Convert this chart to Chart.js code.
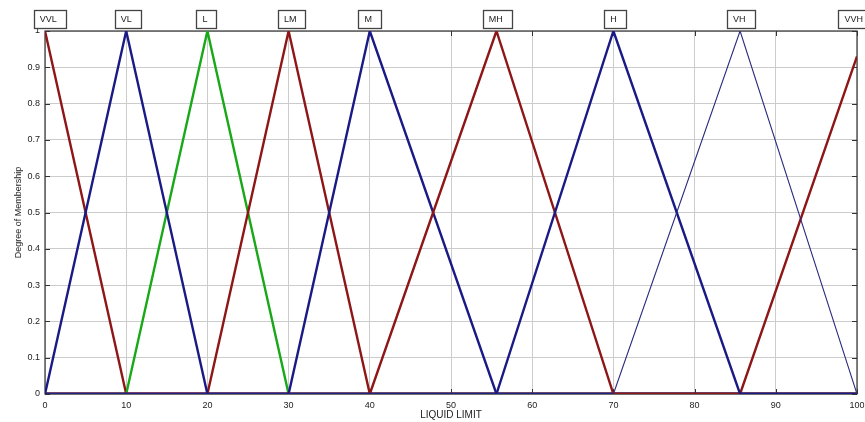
<!DOCTYPE html>
<html lang="en">
<head>
    <meta charset="UTF-8">
    <title>Liquid Limit Membership Functions</title>
    <script src="https://cdn.jsdelivr.net/npm/chart.js"></script>
    <style>
        body {
            margin: 0;
            padding: 0;
            background: #ffffff;
        }

        canvas {
            display: block;
        }
    </style>
</head>
<body>
    <canvas id="chartCanvas" width="865" height="422"></canvas>

    <script>
        // membership function names and the points (x, degree) of each triangle
        const mfNames = ['VVL', 'VL', 'L', 'LM', 'M', 'MH', 'H', 'VH', 'VVH'];
        const mfX = [
            [0, 10, 100],
            [0, 10, 20, 100],
            [0, 10, 20, 30, 100],
            [0, 20, 30, 40, 100],
            [0, 30, 40, 55.6, 100],
            [0, 40, 55.6, 70, 100],
            [0, 55.6, 70, 85.6, 100],
            [0, 70, 85.6, 100],
            [0, 85.6, 100]
        ];
        const mfY = [
            [1, 0, 0],
            [0, 1, 0, 0],
            [0, 0, 1, 0, 0],
            [0, 0, 1, 0, 0],
            [0, 0, 1, 0, 0],
            [0, 0, 1, 0, 0],
            [0, 0, 1, 0, 0],
            [0, 0, 1, 0],
            [0, 0, 0.93]
        ];
        // where each name box sits along the x axis
        const labelX = [0.4, 10, 19.7, 30.2, 39.8, 55.5, 70, 85.5, 99.6];
        const xTicks = [0, 10, 20, 30, 40, 50, 60, 70, 80, 90, 100];
        const yTicks = [0, 0.1, 0.2, 0.3, 0.4, 0.5, 0.6, 0.7, 0.8, 0.9, 1];

        const RED = '#8e1616';
        const BLUE = '#1a1a86';
        const GREEN = '#18a818';
        const mfColors = [RED, BLUE, GREEN, RED, BLUE, RED, BLUE, '#2a2a7e', RED];
        const mfWidths = [2.4, 2.4, 2.4, 2.4, 2.4, 2.4, 2.4, 1.1, 2.4];
        // lower number is drawn on top
        const mfOrder = [8, 4, 7, 6, 3, 2, 1, 0, 5];

        const datasets = mfNames.map((name, i) => ({
            label: name,
            data: mfX[i].map((x, j) => ({ x: x, y: mfY[i][j] })),
            borderColor: mfColors[i],
            backgroundColor: mfColors[i],
            borderWidth: mfWidths[i],
            showLine: true,
            pointRadius: 0,
            tension: 0,
            order: mfOrder[i]
        }));

        const framePlugin = {
            id: 'frame',
            beforeDatasetsDraw(chart) {
                const { ctx, chartArea: a, scales } = chart;
                ctx.save();
                ctx.strokeStyle = '#333333';
                ctx.lineWidth = 1.2;
                ctx.strokeRect(a.left, a.top, a.right - a.left, a.bottom - a.top);
                // MATLAB style inward ticks on every side
                ctx.lineWidth = 1;
                xTicks.forEach(v => {
                    const px = Math.round(scales.x.getPixelForValue(v)) + 0.5;
                    ctx.beginPath();
                    ctx.moveTo(px, a.bottom); ctx.lineTo(px, a.bottom - 5);
                    ctx.moveTo(px, a.top); ctx.lineTo(px, a.top + 5);
                    ctx.stroke();
                });
                yTicks.forEach(v => {
                    const py = Math.round(scales.y.getPixelForValue(v)) + 0.5;
                    ctx.beginPath();
                    ctx.moveTo(a.left, py); ctx.lineTo(a.left + 5, py);
                    ctx.moveTo(a.right, py); ctx.lineTo(a.right - 5, py);
                    ctx.stroke();
                });
                ctx.restore();
            }
        };

        const nameBoxPlugin = {
            id: 'nameBoxes',
            afterDraw(chart) {
                const { ctx, chartArea: a, scales } = chart;
                ctx.save();
                ctx.font = '9px "Liberation Sans", Arial, sans-serif';
                ctx.textBaseline = 'middle';
                ctx.textAlign = 'center';
                mfNames.forEach((name, i) => {
                    const cx = scales.x.getPixelForValue(labelX[i]);
                    const w = ctx.measureText(name).width;
                    const left = Math.round(cx - w / 2 - 6) + 0.5;
                    const right = Math.round(cx + w / 2 + 9) + 0.5;
                    const top = a.top - 20.5;
                    const h = 18;
                    ctx.fillStyle = '#ffffff';
                    ctx.fillRect(left, top, right - left, h);
                    ctx.strokeStyle = '#444444';
                    ctx.lineWidth = 1.3;
                    ctx.strokeRect(left, top, right - left, h);
                    ctx.fillStyle = '#222222';
                    ctx.fillText(name, cx, top + h / 2 + 0.5);
                });
                ctx.restore();
            }
        };

        const tickFont = { family: '"Liberation Sans", Arial, sans-serif', size: 9 };

        new Chart(document.getElementById('chartCanvas'), {
            type: 'scatter',
            data: { datasets: datasets },
            options: {
                responsive: false,
                animation: false,
                layout: {
                    padding: { top: 31, right: 8, left: 0, bottom: 0 }
                },
                plugins: {
                    legend: { display: false },
                    tooltip: { enabled: false }
                },
                scales: {
                    x: {
                        type: 'linear',
                        min: 0,
                        max: 100,
                        afterBuildTicks: scale => {
                            scale.ticks = xTicks.map(v => ({ value: v }));
                        },
                        afterFit: scale => {
                            scale.height = 28;
                            scale.paddingLeft = 0;
                            scale.paddingRight = 0;
                        },
                        grid: { color: '#cccccc', lineWidth: 1, drawTicks: false },
                        border: { display: false },
                        ticks: { font: tickFont, color: '#222222', padding: 6, maxRotation: 0 },
                        title: {
                            display: true,
                            text: 'LIQUID LIMIT',
                            font: { family: '"Liberation Sans", Arial, sans-serif', size: 10 },
                            color: '#222222',
                            padding: { top: 0, bottom: 1 }
                        }
                    },
                    y: {
                        type: 'linear',
                        min: 0,
                        max: 1,
                        afterBuildTicks: scale => {
                            scale.ticks = yTicks.map(v => ({ value: v }));
                        },
                        afterFit: scale => { scale.width = 45; },
                        grid: { color: '#cccccc', lineWidth: 1, drawTicks: false },
                        border: { display: false },
                        ticks: {
                            font: tickFont,
                            color: '#222222',
                            padding: 5,
                            callback: v => String(Math.round(v * 10) / 10)
                        },
                        title: {
                            display: true,
                            text: 'Degree of Membership',
                            font: { family: '"Liberation Sans", Arial, sans-serif', size: 9 },
                            color: '#222222',
                            padding: { top: 13, bottom: 0 }
                        }
                    }
                }
            },
            plugins: [framePlugin, nameBoxPlugin]
        });
    </script>
</body>
</html>
